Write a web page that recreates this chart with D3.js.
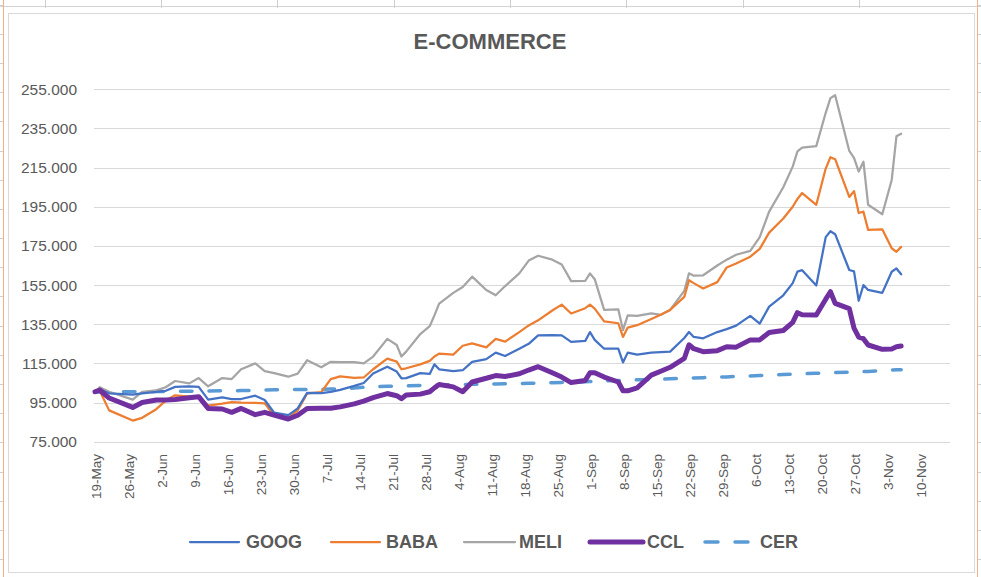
<!DOCTYPE html>
<html><head><meta charset="utf-8">
<script src="https://cdn.jsdelivr.net/npm/d3@7/dist/d3.min.js"></script>
<style>html,body{margin:0;padding:0;background:#fff;} svg{display:block;font-family:"Liberation Sans",Arial,sans-serif;}</style>
</head><body><svg id="c" width="981" height="577"></svg>
<script>
// ---- DATA ----
const dates = ["2020-05-19","2020-05-20","2020-05-22","2020-05-27","2020-05-29","2020-06-01","2020-06-03","2020-06-05","2020-06-08","2020-06-10",
"2020-06-12","2020-06-15","2020-06-17","2020-06-19","2020-06-22","2020-06-24","2020-06-26","2020-06-29","2020-07-01","2020-07-03",
"2020-07-06","2020-07-08","2020-07-10","2020-07-13","2020-07-15","2020-07-17","2020-07-20","2020-07-22","2020-07-23","2020-07-24",
"2020-07-27","2020-07-29","2020-07-30","2020-07-31","2020-08-03","2020-08-05","2020-08-07","2020-08-10","2020-08-12","2020-08-14",
"2020-08-17","2020-08-19","2020-08-21","2020-08-24","2020-08-26","2020-08-28","2020-08-31","2020-09-01","2020-09-02","2020-09-04",
"2020-09-07","2020-09-08","2020-09-09","2020-09-11","2020-09-14","2020-09-16","2020-09-18","2020-09-21","2020-09-22","2020-09-23",
"2020-09-25","2020-09-28","2020-09-30","2020-10-02","2020-10-05","2020-10-07","2020-10-09","2020-10-12","2020-10-14","2020-10-15",
"2020-10-16","2020-10-19","2020-10-21","2020-10-22","2020-10-23","2020-10-26","2020-10-27","2020-10-28","2020-10-29","2020-10-30",
"2020-11-02","2020-11-04","2020-11-05","2020-11-06"];

const GOOG = [100,101.8,99.7,99,99.7,100.4,101,103,103.3,103,
96.5,97.6,96.8,96.8,98.5,96.3,89.8,88.6,92,99.9,
99.8,100.5,101.5,103.5,105,109.8,113.3,110.8,107.4,107.5,
110,109.6,114.5,112,111,111.5,115.8,117.2,120.5,118.8,
122.5,125,129.3,129.5,129.3,126,126.5,131,127,122.5,
122.5,115.5,120.5,119.5,120.5,120.8,121,128,131,128.5,
127.8,131,132.5,134.3,139.3,135.3,144,149.8,156,161.9,
162.6,154.8,179.5,182.5,181,162.7,162,147,155,152.5,
151,161.8,163.5,160.5];

const BABA = [100,101,91,85.8,87.2,91.6,96,98.7,98,98,
93.4,94.4,95.2,94.9,94.8,94.6,88.4,87,91,99.7,
100.3,107,108.4,107.6,107.8,112,117.4,115.9,112,112.5,
114.5,116.3,118.5,120,119.5,124,125.2,123.2,127.5,126.1,
131,134.4,137,142,145,140.5,143.2,145,143,136.5,
135.5,128.5,133.3,134.5,137.7,139.8,142.3,149,157.5,156,
153.3,156.5,164,166,169.5,173.5,181.8,189,195,199,
202,196,214.5,220.3,219.3,200,203,191.8,192.5,183.2,
183.5,173.8,172,174.5];

const MELI = [100,102.8,100.5,96.5,100.5,101.2,102.8,106,104.8,107.5,
103.3,107.5,107,112,115,111,110,108.2,109.8,116.6,
113,115.8,115.6,115.6,115,118.5,127.5,124.4,118.5,121,
130,134,139.5,145.5,151,154,159.3,152.5,149.8,154.5,
161,167.5,170,168,165.5,157,157.2,161,158,142.3,
142.6,132,139.5,139.3,140.5,139.8,142.3,152,161,159.8,
160,165,168,170.5,172.5,179.5,192.5,205,215.5,223.3,
225.2,226,243,250.5,252,223.5,220,213,218,196,
191.2,208.7,231,232.3];

const CCL = [100.5,101.4,97.3,92.5,95,96.3,96.3,96.6,97.5,98,
92,91.7,90,92,88.8,90,88.6,86.6,88.5,92,
92.1,92.1,92.8,94.3,95.7,97.5,99.6,98.5,97,98.8,
99.3,100.5,102.5,104.2,103,100.5,105.5,107.4,108.8,108.3,
109.7,111.6,113.3,110.2,108,105.2,106.3,110.2,110.2,108,
105.5,101,101,102.5,109,111,113,117.5,124.5,122.5,
121,121.5,123.5,123.3,127,127,130.8,131.8,136,140.9,
139.8,139.7,147.8,151.6,145.7,143,133,128.4,127.6,124.4,
122.2,122.4,123.5,123.9];

const CER = [100.3,100.3,100.4,100.5,100.5,100.6,100.7,100.8,100.8,100.9,
100.9,101,101,101.1,101.3,101.4,101.5,101.6,101.6,101.6,
101.8,101.9,102,102.4,102.8,103,103.3,103.4,103.4,103.5,
103.7,103.8,103.9,104,104.1,104.2,104.3,104.4,104.5,104.6,
104.7,104.8,104.9,105.1,105.3,105.4,105.6,105.7,105.8,106,
106.3,106.4,106.5,106.6,106.7,106.9,107.1,107.4,107.5,107.5,
107.7,108,108.1,108.4,108.6,108.8,109,109.3,109.5,109.6,
109.7,110,110.1,110.2,110.3,110.5,110.6,110.7,110.8,110.9,
111.3,111.6,111.7,111.8];

const yTicks = [75,95,115,135,155,175,195,215,235,255];
const xTickLabels = ["19-May","26-May","2-Jun","9-Jun","16-Jun","23-Jun","30-Jun","7-Jul","14-Jul","21-Jul","28-Jul","4-Aug","11-Aug",
"18-Aug","25-Aug","1-Sep","8-Sep","15-Sep","22-Sep","29-Sep","6-Oct","13-Oct","20-Oct","27-Oct","3-Nov","10-Nov"];
const seriesNames = ["GOOG","BABA","MELI","CCL","CER"];
const title = "E-COMMERCE";

// ---- STYLE ----
const colors = {GOOG:"#4472C4", BABA:"#ED7D31", MELI:"#A5A5A5", CCL:"#7030A0", CER:"#5B9BD5"};
const widths = {GOOG:2.25, BABA:2.25, MELI:2.25, CCL:5, CER:3.5};
const textColor = "#595959";

const svg = d3.select("#c");
const parse = d3.timeParse("%Y-%m-%d");
const tickParse = d3.timeParse("%d-%b-%Y");
const dts = dates.map(parse);
const tickDates = xTickLabels.map(s => tickParse(s + "-2020"));

// spreadsheet background decoration
svg.append("line").attr("x1",0).attr("x2",981).attr("y1",6.5).attr("y2",6.5).attr("stroke","#d4d4d4");
[45,161,277,394,510,626,743,859].forEach(xx=>{
  svg.append("line").attr("x1",xx+0.5).attr("x2",xx+0.5).attr("y1",0).attr("y2",8).attr("stroke","#cfcfcf");
});
svg.append("line").attr("x1",3.5).attr("x2",3.5).attr("y1",0).attr("y2",577).attr("stroke","#f4b183").attr("stroke-width",1);
svg.append("line").attr("x1",977.5).attr("x2",977.5).attr("y1",0).attr("y2",577).attr("stroke","#f4b183").attr("stroke-width",1);
for (let yy=4.5; yy<577; yy+=29.2) {
  svg.append("line").attr("x1",0).attr("x2",3).attr("y1",Math.round(yy)+0.5).attr("y2",Math.round(yy)+0.5).attr("stroke","#cfcfcf");
  svg.append("line").attr("x1",978).attr("x2",981).attr("y1",Math.round(yy)+0.5).attr("y2",Math.round(yy)+0.5).attr("stroke","#cfcfcf");
}
// chart area
svg.append("rect").attr("x",8.5).attr("y",13.5).attr("width",966).attr("height",559)
  .attr("fill","#fff").attr("stroke","#d9d9d9");

// ---- SCALES ----
const plotLeft = 94, plotRight = 950;
const x = d3.scaleTime().domain([tickDates[0], tickDates[tickDates.length-1]]).range([95, 920]);
const y = d3.scaleLinear().domain([75,255]).range([441.7, 89.3]);

// gridlines
svg.append("g").selectAll("line").data(yTicks).join("line")
  .attr("x1",plotLeft).attr("x2",plotRight)
  .attr("y1",d=>Math.round(y(d))+0.5).attr("y2",d=>Math.round(y(d))+0.5)
  .attr("stroke","#d9d9d9").attr("stroke-width",1);

// y axis labels
const fmt = d3.format(".3f");
svg.append("g").selectAll("text").data(yTicks).join("text")
  .attr("x",77).attr("y",d=>y(d)).attr("dy","0.35em")
  .attr("text-anchor","end").attr("font-size","15.5px").attr("fill",textColor)
  .text(d=>fmt(d));

// x axis labels
svg.append("g").selectAll("text").data(tickDates).join("text")
  .attr("transform",d=>`translate(${x(d)+1},454) rotate(-90)`)
  .attr("dy","0.35em").attr("text-anchor","end")
  .attr("font-size","13.5px").attr("fill",textColor)
  .text((d,i)=>xTickLabels[i]);

// title
svg.append("text").attr("x",490).attr("y",49).attr("text-anchor","middle")
  .attr("font-size","22px").attr("font-weight","bold").attr("fill",textColor).text(title);

// ---- LINES ----
const seriesData = {GOOG, BABA, MELI, CCL, CER};
const line = d3.line().x((d,i)=>x(dts[i])).y(d=>y(d)).curve(d3.curveLinear);
["CER","MELI","BABA","GOOG","CCL"].forEach(name=>{
  svg.append("path").datum(seriesData[name])
    .attr("d", line).attr("fill","none")
    .attr("stroke",colors[name]).attr("stroke-width",widths[name])
    .attr("stroke-linejoin","round").attr("stroke-linecap","round")
    .attr("stroke-dasharray", name==="CER" ? "11.5,17" : null);
});

// ---- LEGEND ----
const legendPos = {GOOG:[190,239,246], BABA:[331,380,386], MELI:[464,515,519], CCL:[590,643,647], CER:[705,751,760]};
const ly = 542;
seriesNames.forEach(name=>{
  const p = legendPos[name];
  svg.append("line").attr("x1",p[0]).attr("x2",p[1]).attr("y1",ly).attr("y2",ly)
    .attr("stroke",colors[name]).attr("stroke-width",widths[name])
    .attr("stroke-linecap","round")
    .attr("stroke-dasharray", name==="CER" ? "13,17" : null);
  svg.append("text").attr("x",p[2]).attr("y",ly).attr("dy","0.35em")
    .attr("font-size","18px").attr("font-weight","bold").attr("fill",textColor).text(name);
});
</script></body></html>
